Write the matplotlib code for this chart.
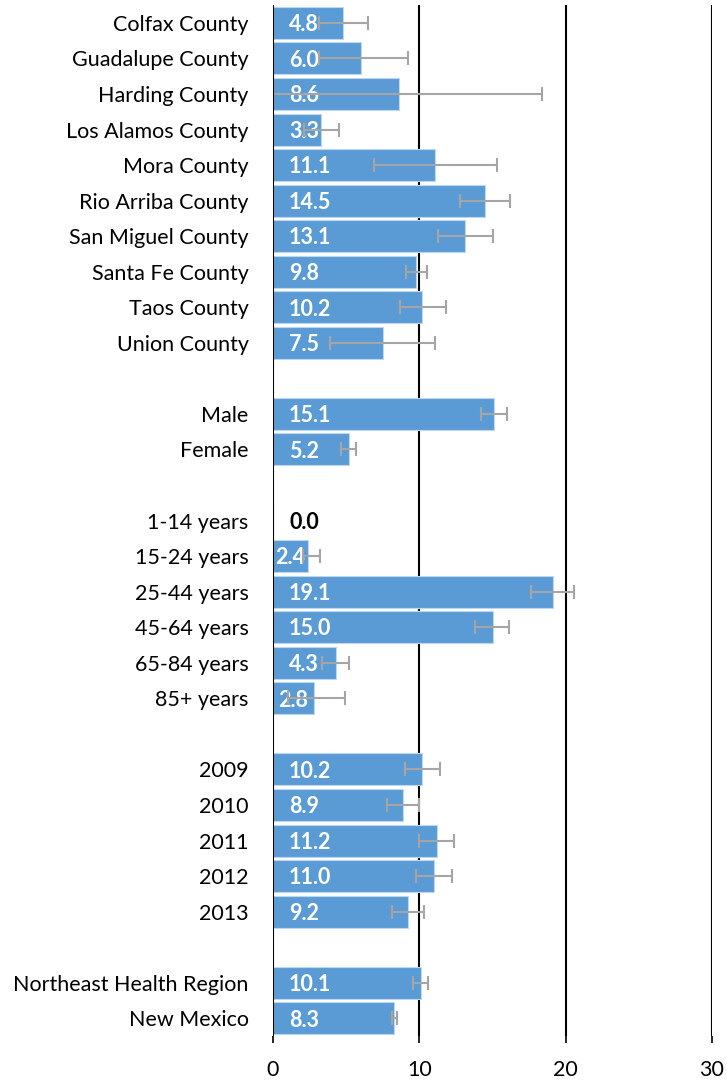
import numpy as np
from matplotlib import pyplot as plt

# ---------------- data (rows top to bottom, "" = blank spacer row) ----------------
labels = ["Colfax County", "Guadalupe County", "Harding County", "Los Alamos County",
          "Mora County", "Rio Arriba County", "San Miguel County", "Santa Fe County",
          "Taos County", "Union County", "",
          "Male", "Female", "",
          "1-14 years", "15-24 years", "25-44 years", "45-64 years", "65-84 years", "85+ years", "",
          "2009", "2010", "2011", "2012", "2013", "",
          "Northeast Health Region", "New Mexico"]
rates = [4.8, 6.0, 8.6, 3.3, 11.1, 14.5, 13.1, 9.8, 10.2, 7.5, None,
         15.1, 5.2, None,
         0.0, 2.4, 19.1, 15.0, 4.3, 2.8, None,
         10.2, 8.9, 11.2, 11.0, 9.2, None,
         10.1, 8.3]
lower = [3.15, 3.15, 0.0, 2.1, 6.9, 12.8, 11.3, 9.1, 8.7, 3.9, None,
         14.2, 4.65, None,
         None, 2.05, 17.6, 13.8, 3.35, 1.0, None,
         9.0, 7.8, 10.0, 9.8, 8.15, None,
         9.55, 8.1]
upper = [6.5, 9.2, 18.4, 4.5, 15.3, 16.2, 15.0, 10.5, 11.8, 11.1, None,
         16.0, 5.7, None,
         None, 3.2, 20.6, 16.1, 5.2, 4.9, None,
         11.4, 10.0, 12.4, 12.2, 10.3, None,
         10.6, 8.5]

blue = "#5B9BD5"
grey = "#A5A5A5"
plt.rcParams['font.family'] = ['Lato', 'DejaVu Sans']

fig = plt.figure(figsize=(7.27, 10.8), dpi=100)
ax = fig.add_axes([0.3755, 0.0407, 0.6039, 0.9546])

ypos = np.arange(len(labels))
idx = [i for i, v in enumerate(rates) if v is not None]
vals = np.array([rates[i] for i in idx])
ax.barh(ypos[idx], vals, height=0.9, color=blue, edgecolor="#BDD7EE", linewidth=0.8, zorder=3)

# error bars (drawn over the value labels, as in the original)
eidx = [i for i in idx if lower[i] is not None]
ev = np.array([rates[i] for i in eidx])
lo = ev - np.array([lower[i] for i in eidx])
hi = np.array([upper[i] for i in eidx]) - ev
ax.errorbar(ev, ypos[eidx], xerr=[lo, hi], fmt="none", ecolor=grey, elinewidth=1.5,
            capsize=5, capthick=1.5, zorder=6)

# value labels
fs = 15.5
for i in idx:
    v = rates[i]
    if v == 0:
        ax.text(1.1, i + 0.05, f"{v:.1f}", color="black", fontsize=fs, fontweight="bold",
                va="center", ha="left", zorder=5)
    elif v < 3:
        ax.text(v / 2, i + 0.05, f"{v:.1f}", color="white", fontsize=fs, fontweight="bold",
                va="center", ha="center", zorder=5)
    else:
        ax.text(1.1, i + 0.05, f"{v:.1f}", color="white", fontsize=fs, fontweight="bold",
                va="center", ha="left", zorder=5)

# grid lines
for gx in [10, 20, 30]:
    ax.axvline(gx, color="black", linewidth=1.5, zorder=1)
ax.axvline(0, color="black", linewidth=1.5, zorder=7)

ax.set_xlim(0, 30)
ax.set_ylim(len(labels) - 0.5, -0.5)
ax.set_yticks(ypos)
ax.set_yticklabels(labels, fontsize=fs)
ax.set_xticks([0, 10, 20, 30])
ax.set_xticklabels(["0", "10", "20", "30"], fontsize=fs)
ax.tick_params(axis="y", left=False, pad=14)
ax.tick_params(axis="x", length=5, width=1.2, pad=12)
for s in ax.spines.values():
    s.set_visible(False)

fig.savefig("out.png", dpi=100)
